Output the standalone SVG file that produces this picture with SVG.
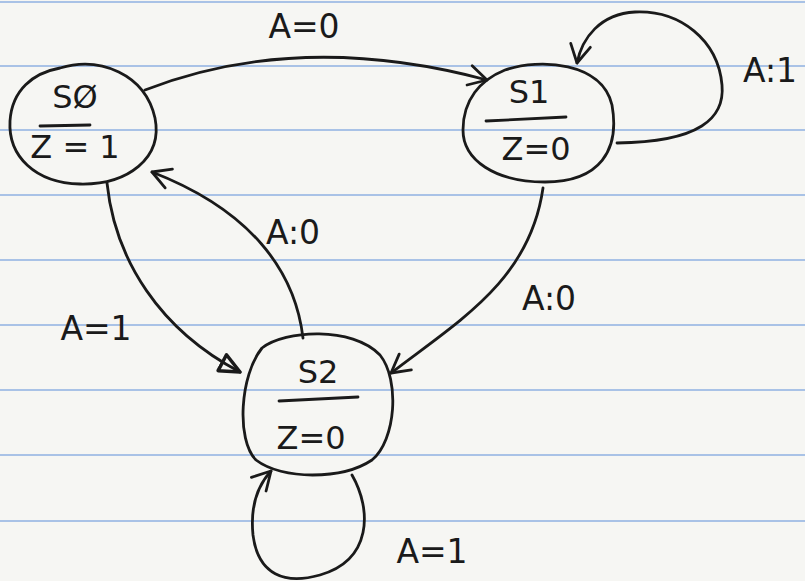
<svg xmlns="http://www.w3.org/2000/svg" width="805" height="581" viewBox="0 0 805 581">
<defs>
<style>
.paper{fill:#f6f6f3}
.rule{stroke:#a9c2e6;stroke-width:2}
.st{fill:none;stroke:#1a1a1a;stroke-width:2.8;stroke-linecap:round;stroke-linejoin:round}
.t{font-family:"DejaVu Sans","Liberation Sans",sans-serif;fill:#1a1a1a;text-anchor:middle}
.lbl{font-size:33px}
.nm{font-size:32px}
</style>
<marker id="v" viewBox="-20 -12 24 24" refX="0" refY="0" markerWidth="24" markerHeight="24" markerUnits="userSpaceOnUse" orient="auto">
<path d="M-18,-10 L0,0 L-18,10" fill="none" stroke="#1a1a1a" stroke-width="2.8" stroke-linecap="round" stroke-linejoin="round"/>
</marker>
<marker id="tri" viewBox="-22 -12 26 24" refX="0" refY="0" markerWidth="26" markerHeight="24" markerUnits="userSpaceOnUse" orient="auto">
<path d="M-20,-9 L0,0 L-20,9 Z" fill="none" stroke="#1a1a1a" stroke-width="3.5" stroke-linejoin="round"/>
</marker>
</defs>
<rect class="paper" x="0" y="0" width="805" height="581"/>
<g id="rules">
<line class="rule" x1="0" y1="2" x2="805" y2="2"/>
<line class="rule" x1="0" y1="66" x2="805" y2="66"/>
<line class="rule" x1="0" y1="130" x2="805" y2="130"/>
<line class="rule" x1="0" y1="195" x2="805" y2="195"/>
<line class="rule" x1="0" y1="260" x2="805" y2="260"/>
<line class="rule" x1="0" y1="325" x2="805" y2="325"/>
<line class="rule" x1="0" y1="390" x2="805" y2="390"/>
<line class="rule" x1="0" y1="455" x2="805" y2="455"/>
<line class="rule" x1="0" y1="521" x2="805" y2="521"/>
</g>
<g id="connectors">
<path class="st" d="M145,90 Q300,30 487,80" marker-end="url(#v)"/>
<path class="st" d="M617,143 C700,142 725,118 722,85 C718,40 680,10 635,12 C600,14 582,38 577,63" marker-end="url(#v)"/>
<path class="st" d="M107,183 C115,260 160,330 240,372" marker-end="url(#tri)"/>
<path class="st" d="M303,338 C295,270 250,210 152,172" marker-end="url(#v)"/>
<path class="st" d="M543,188 C530,280 460,320 391,373" marker-end="url(#v)"/>
<path class="st" d="M352,475 C372,510 372,560 320,575 C285,585 258,575 253,535 C250,505 258,485 271,471" marker-end="url(#v)"/>
<text class="t lbl" x="304" y="38">A=0</text>
<text class="t lbl" x="770" y="82">A:1</text>
<text class="t lbl" x="293" y="244">A:0</text>
<text class="t lbl" x="549" y="310">A:0</text>
<text class="t lbl" x="96" y="340">A=1</text>
<text class="t lbl" x="432" y="563">A=1</text>
</g>
<g id="S0">
<path class="st" d="M60,68 C100,56 145,74 155,118 C163,158 128,185 80,184 C35,183 8,156 10,121 C12,90 33,73 60,68 Z"/>
<text class="t nm" x="75" y="108">SØ</text>
<path class="st" d="M40,126 L90,125"/>
<text class="t nm" x="75" y="158">Z = 1</text>
</g>
<g id="S1">
<path class="st" d="M505,70 C540,58 602,62 612,105 C620,150 600,182 545,182 C495,182 463,160 463,130 C463,100 480,80 505,70 Z"/>
<text class="t nm" x="529" y="103">S1</text>
<path class="st" d="M486,121 L566,117"/>
<text class="t nm" x="536" y="160">Z=0</text>
</g>
<g id="S2">
<path class="st" d="M262,348 C285,330 352,326 380,355 C400,380 396,440 372,460 C342,480 282,480 256,460 C236,440 240,375 262,348 Z"/>
<text class="t nm" x="318" y="383">S2</text>
<path class="st" d="M279,401 L358,397"/>
<text class="t nm" x="311" y="449">Z=0</text>
</g>
</svg>
